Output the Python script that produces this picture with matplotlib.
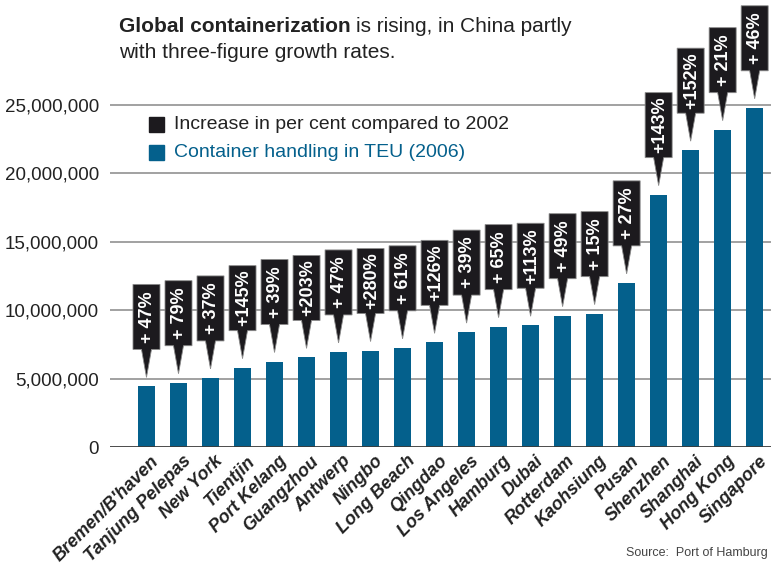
import matplotlib
matplotlib.use("Agg")
import matplotlib.pyplot as plt
import matplotlib.transforms as mtransforms
from matplotlib.patches import Polygon
from matplotlib import font_manager
from matplotlib.ticker import FuncFormatter

# Container handling in TEU (2006) and growth compared to 2002
ports = ["Bremen/B'haven", "Tanjung Pelepas", "New York", "Tientjin", "Port Kelang",
         "Guangzhou", "Antwerp", "Ningbo", "Long Beach", "Qingdao", "Los Angeles",
         "Hamburg", "Dubai", "Rotterdam", "Kaohsiung", "Pusan", "Shenzhen",
         "Shanghai", "Hong Kong", "Singapore"]
teu_2006 = [4.43e6, 4.70e6, 5.05e6, 5.80e6, 6.25e6, 6.55e6, 6.95e6, 7.05e6, 7.25e6,
            7.65e6, 8.40e6, 8.80e6, 8.90e6, 9.60e6, 9.75e6, 12.0e6, 18.45e6,
            21.7e6, 23.2e6, 24.8e6]
growth_labels = ["+ 47%", "+ 79%", "+ 37%", "+145%", "+ 39%", "+203%", "+ 47%",
                 "+280%", "+ 61%", "+126%", "+ 39%", "+ 65%", "+113%", "+ 49%",
                 "+ 15%", "+ 27%", "+143%", "+152%", "+ 21%", "+ 46%"]
y_ticks = [0, 5e6, 10e6, 15e6, 20e6, 25e6]

BLUE = "#04608c"
BLACK = "#1c1a1e"
TEXT = "#222222"


def pick_font(*names):
    for n in names:
        try:
            font_manager.findfont(n, fallback_to_default=False)
            return n
        except Exception:
            continue
    return "DejaVu Sans"


SANS = pick_font("Liberation Sans", "DejaVu Sans")
plt.rcParams["font.family"] = [SANS, "DejaVu Sans"]

fig = plt.figure(figsize=(7.71, 5.67), dpi=100)
ax = fig.add_axes([110 / 771, 120 / 567, 661 / 771, 447 / 567])

x = list(range(len(ports)))
ax.bar(x, teu_2006, width=0.53, color=BLUE, zorder=2)

ax.set_xlim(-1.14, 19.51)
ax.set_ylim(0, 32.68e6)
ax.set_yticks(y_ticks)
ax.yaxis.set_major_formatter(FuncFormatter(lambda v, p: f"{int(v):,}"))
ax.tick_params(axis="y", length=0, pad=8, labelsize=13.5, labelcolor=TEXT)
for v in y_ticks[1:]:
    ax.axhline(v, color="#9a9a9a", lw=1.3, zorder=1)
ax.axhline(0, color="#3a3a3a", lw=2.0, zorder=3)
for s in ax.spines.values():
    s.set_visible(False)

ax.set_xticks(x)
ax.set_xticklabels(ports, rotation=45, ha="right", va="top",
                   rotation_mode="anchor", fontsize=13, fontweight="bold",
                   fontstyle="italic", color=TEXT)
ax.tick_params(axis="x", length=0, pad=4)
for lab in ax.get_xticklabels():
    lab.set_transform(lab.get_transform() +
                      mtransforms.ScaledTranslation(4 / 100, 0, fig.dpi_scale_trans))

# Callout flags: rectangle with a pointer, anchored a few pixels above each bar
W, H, PL, PB, GAP = 0.27, 0.65, 0.28, 0.10, 0.09  # inches
for xi, val, lab in zip(x, teu_2006, growth_labels):
    tr = fig.dpi_scale_trans + mtransforms.ScaledTranslation(xi, val, ax.transData)
    verts = [(0, GAP), (-PB / 2, GAP + PL), (-W / 2, GAP + PL), (-W / 2, GAP + PL + H),
             (W / 2, GAP + PL + H), (W / 2, GAP + PL), (PB / 2, GAP + PL)]
    ax.add_patch(Polygon(verts, closed=True, transform=tr, facecolor=BLACK,
                         edgecolor="#8a8a8a", lw=0.6, zorder=4, clip_on=False))
    ax.text(0.01, GAP + PL + H / 2, lab, transform=tr, rotation=90, ha="center",
            va="center", color="white", fontsize=13, fontweight="bold", zorder=5)

# Title
fig.text(119 / 771, 1 - 27 / 567, "Global containerization", fontsize=15,
         fontweight="bold", color=TEXT, va="center")
t1 = fig.text(0, 0, "Global containerization", fontsize=15, fontweight="bold")
fig.canvas.draw()
bb = t1.get_window_extent()
t1.remove()
fig.text(119 / 771 + (bb.width + 5) / 771, 1 - 27 / 567,
         "is rising, in China partly", fontsize=15, color=TEXT, va="center")
fig.text(119 / 771, 1 - 53 / 567, "with three-figure growth rates.", fontsize=15,
         color=TEXT, va="center")

# Legend
fig.patches.append(plt.Rectangle((149 / 771, 1 - 132 / 567), 15 / 771, 15 / 567,
                                 transform=fig.transFigure, color=BLACK, zorder=5))
fig.text(174 / 771, 1 - 125 / 567, "Increase in per cent compared to 2002",
         fontsize=14, color=TEXT, va="center")
fig.patches.append(plt.Rectangle((149 / 771, 1 - 160 / 567), 15 / 771, 15 / 567,
                                 transform=fig.transFigure, color=BLUE, zorder=5))
fig.text(174 / 771, 1 - 153 / 567, "Container handling in TEU (2006)",
         fontsize=14, color=BLUE, va="center")

fig.text(768 / 771, 1 - 553 / 567, "Source:  Port of Hamburg", fontsize=9,
         color="#444444", ha="right", va="center")

fig.savefig("out.png", dpi=100)
